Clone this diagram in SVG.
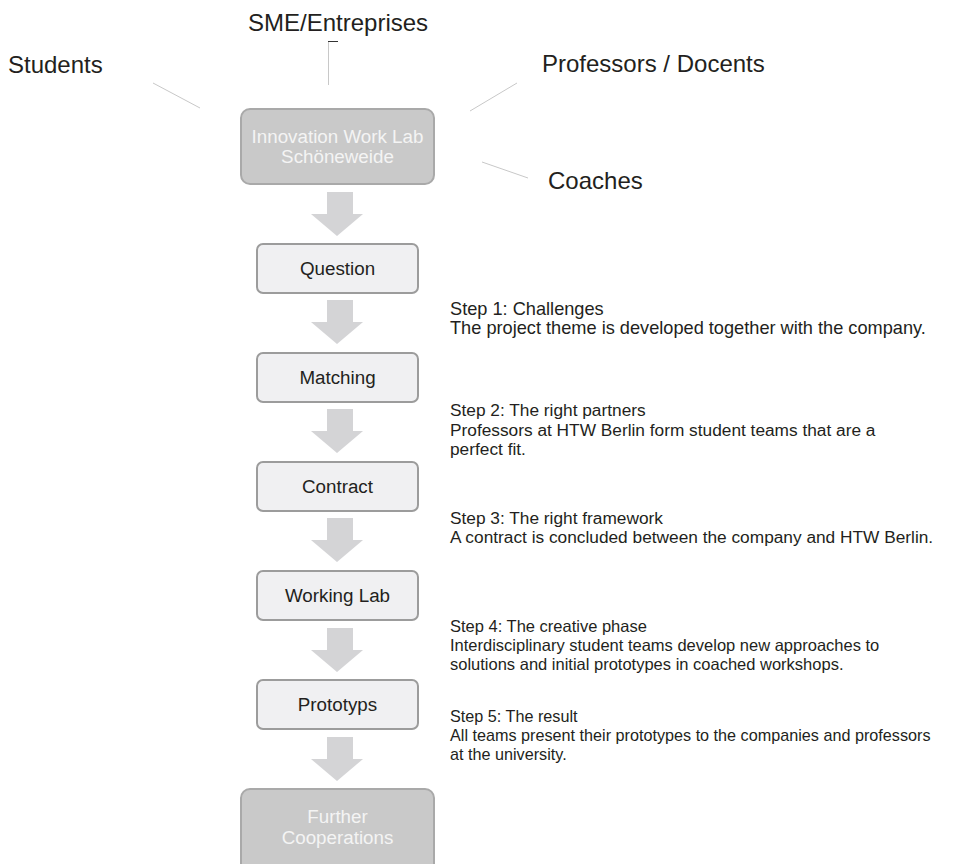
<svg xmlns="http://www.w3.org/2000/svg" width="968" height="864" viewBox="0 0 968 864">
  <style>
    .lbl { font-family: "Liberation Sans", Arial, sans-serif; fill: #231f20; }
    .role { font-size: 24px; }
    .s1 { font-size: 18.2px; }
    .s2 { font-size: 17.3px; }
    .s3 { font-size: 17.3px; }
    .s4 { font-size: 16.5px; }
    .s5 { font-size: 16.2px; }
    .hub { fill: #c9c9c9; stroke: #a9a9a9; stroke-width: 2; }
    .hubtxt { font-family: "Liberation Sans", Arial, sans-serif; font-size: 18.8px; fill: #f4f4f4; text-anchor: middle; }
    .box { fill: #f0f0f2; stroke: #9c9c9c; stroke-width: 2; }
    .boxtxt { font-family: "Liberation Sans", Arial, sans-serif; font-size: 18.8px; fill: #231f20; text-anchor: middle; }
    .link { stroke: #c8c8c8; stroke-width: 1; fill: none; }
    .flow { fill: #d4d4d6; }
  </style>
  <defs>
    <!-- block arrow pointing down, origin at its top centre -->
    <path id="downArrow" d="M-10,0 H16 V22 H26 L0,44 L-26,22 H-10 Z" transform="translate(-3,0)"/>
  </defs>

  <rect width="968" height="864" fill="#ffffff"/>

  <!-- stakeholder labels -->
  <g id="stakeholders">
    <text class="lbl role" x="248" y="31">SME/Entreprises</text>
    <text class="lbl role" x="8" y="73">Students</text>
    <text class="lbl role" x="542" y="72">Professors / Docents</text>
    <text class="lbl role" x="548" y="189">Coaches</text>
  </g>

  <!-- connectors -->
  <g id="connectors">
    <line class="link" x1="328.5" y1="42" x2="328.5" y2="85"/>
    <line x1="328" y1="41.5" x2="338" y2="41.5" stroke="#333" stroke-width="1"/>
    <line class="link" x1="153" y1="83" x2="200" y2="108"/>
    <line class="link" x1="470" y1="111" x2="517" y2="83"/>
    <line class="link" x1="482" y1="162" x2="528" y2="178"/>
    <g class="flow">
      <use href="#downArrow" x="340" y="192"/>
      <use href="#downArrow" x="340" y="300"/>
      <use href="#downArrow" x="340" y="409"/>
      <use href="#downArrow" x="340" y="518"/>
      <use href="#downArrow" x="340" y="628"/>
      <use href="#downArrow" x="340" y="737"/>
    </g>
  </g>

  <!-- nodes -->
  <g id="hub">
    <rect class="hub" x="241" y="109" width="193" height="75" rx="9"/>
    <text class="hubtxt" x="337.5" y="143">Innovation Work Lab</text>
    <text class="hubtxt" x="337.5" y="163">Schöneweide</text>
  </g>

  <g id="question">
    <rect class="box" x="257" y="244" width="161" height="49" rx="6"/>
    <text class="boxtxt" x="337.5" y="274.5">Question</text>
  </g>
  <g id="matching">
    <rect class="box" x="257" y="353" width="161" height="49" rx="6"/>
    <text class="boxtxt" x="337.5" y="383.5">Matching</text>
  </g>
  <g id="contract">
    <rect class="box" x="257" y="462" width="161" height="49" rx="6"/>
    <text class="boxtxt" x="337.5" y="492.5">Contract</text>
  </g>
  <g id="working-lab">
    <rect class="box" x="257" y="571" width="161" height="49" rx="6"/>
    <text class="boxtxt" x="337.5" y="601.5">Working Lab</text>
  </g>
  <g id="prototyps">
    <rect class="box" x="257" y="680" width="161" height="49" rx="6"/>
    <text class="boxtxt" x="337.5" y="710.5">Prototyps</text>
  </g>
  <g id="further-cooperations">
    <rect class="hub" x="241" y="789" width="193" height="90" rx="9"/>
    <text class="hubtxt" x="337.5" y="823">Further</text>
    <text class="hubtxt" x="337.5" y="844">Cooperations</text>
  </g>

  <!-- step descriptions -->
  <g id="step-notes" class="lbl">
    <g class="s1">
      <text x="450" y="315">Step 1: Challenges</text>
      <text x="450" y="334">The project theme is developed together with the company.</text>
    </g>
    <g class="s2">
      <text x="450" y="416">Step 2: The right partners</text>
      <text x="450" y="436">Professors at HTW Berlin form student teams that are a</text>
      <text x="450" y="455">perfect fit.</text>
    </g>
    <g class="s3">
      <text x="450" y="524">Step 3: The right framework</text>
      <text x="450" y="543">A contract is concluded between the company and HTW Berlin.</text>
    </g>
    <g class="s4">
      <text x="450" y="632">Step 4: The creative phase</text>
      <text x="450" y="651">Interdisciplinary student teams develop new approaches to</text>
      <text x="450" y="670">solutions and initial prototypes in coached workshops.</text>
    </g>
    <g class="s5">
      <text x="450" y="722">Step 5: The result</text>
      <text x="450" y="741">All teams present their prototypes to the companies and professors</text>
      <text x="450" y="760">at the university.</text>
    </g>
  </g>
</svg>
